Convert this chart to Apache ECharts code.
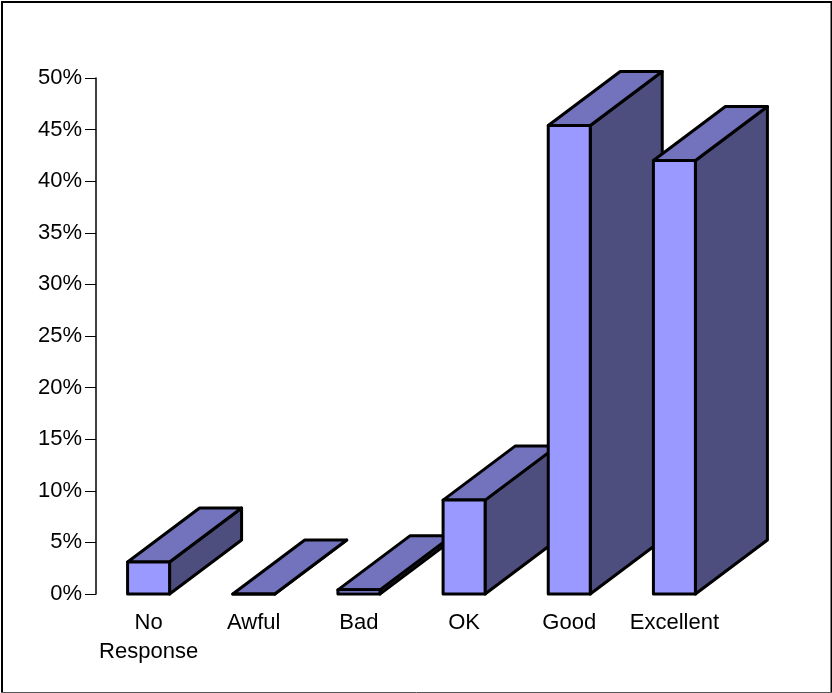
<!DOCTYPE html>
<html>
<head>
<meta charset="utf-8">
<style>html,body{margin:0;padding:0;background:#fff}#chart{width:832px;height:693px}</style>
<script src="https://cdn.jsdelivr.net/npm/echarts@6/dist/echarts.min.js"></script>
</head>
<body>
<div id="chart"></div>
<script>
// Survey responses, percent of respondents per rating
const categories = ['No\nResponse', 'Awful', 'Bad', 'OK', 'Good', 'Excellent'];
const shares = [3.1, 0, 0.4, 9.1, 45.4, 42];
const yTicks = [0, 5, 10, 15, 20, 25, 30, 35, 40, 45, 50];

const FRONT = '#9999ff', TOP = '#7373bd', SIDE = '#4d4d7e';
const DEPTH_X = 72, DEPTH_Y = 54, BAR_W = 42;
const line = { stroke: '#000', lineWidth: 3, lineJoin: 'round' };

// Extruded column: side and top faces run back from the front rectangle
function renderBar(params, api) {
  const base = api.coord([api.value(0), 0]);
  const top = api.coord([api.value(0), api.value(1)]);
  const l = base[0] - BAR_W / 2, r = base[0] + BAR_W / 2;
  const b = base[1], t = top[1];
  const face = (pts, fill) => ({
    type: 'polygon',
    shape: { points: pts },
    style: Object.assign({ fill }, line)
  });
  return {
    type: 'group',
    children: [
      face([[r, b], [r + DEPTH_X, b - DEPTH_Y], [r + DEPTH_X, t - DEPTH_Y], [r, t]], SIDE),
      face([[l, t], [r, t], [r + DEPTH_X, t - DEPTH_Y], [l + DEPTH_X, t - DEPTH_Y]], TOP),
      face([[l, b], [r, b], [r, t], [l, t]], FRONT)
    ]
  };
}

const chart = echarts.init(document.getElementById('chart'), null, { renderer: 'canvas' });
chart.setOption({
  animation: false,
  backgroundColor: '#fff',
  graphic: [
    {
      type: 'polyline',
      shape: { points: [[2, 693], [2, 2], [831.5, 2], [831.5, 693]] },
      style: { fill: 'none', stroke: '#000', lineWidth: 2 },
      silent: true
    },
    {
      type: 'line',
      shape: { x1: 1, y1: 692.5, x2: 832, y2: 692.5 },
      style: { stroke: '#555', lineWidth: 1 },
      silent: true
    }
  ],
  grid: { left: 96, top: 78, width: 631, height: 516, containLabel: false },
  xAxis: {
    type: 'category',
    data: categories,
    axisLine: { show: false },
    axisTick: { show: false },
    axisLabel: {
      interval: 0, margin: 14, color: '#000',
      fontFamily: 'Liberation Sans', fontSize: 22, lineHeight: 29
    }
  },
  yAxis: {
    type: 'value',
    min: yTicks[0],
    max: yTicks[yTicks.length - 1],
    interval: yTicks[1] - yTicks[0],
    splitLine: { show: false },
    axisLine: { show: true, lineStyle: { color: '#000', width: 1.5 } },
    axisTick: { show: true, length: 11, lineStyle: { color: '#000', width: 1 } },
    axisLabel: {
      margin: 14, color: '#000',
      fontFamily: 'Liberation Sans', fontSize: 22,
      formatter: '{value}%'
    }
  },
  series: [{
    type: 'custom',
    renderItem: renderBar,
    clip: false,
    encode: { x: 0, y: 1 },
    data: shares.map((v, i) => [i, v])
  }]
});
</script>
</body>
</html>
